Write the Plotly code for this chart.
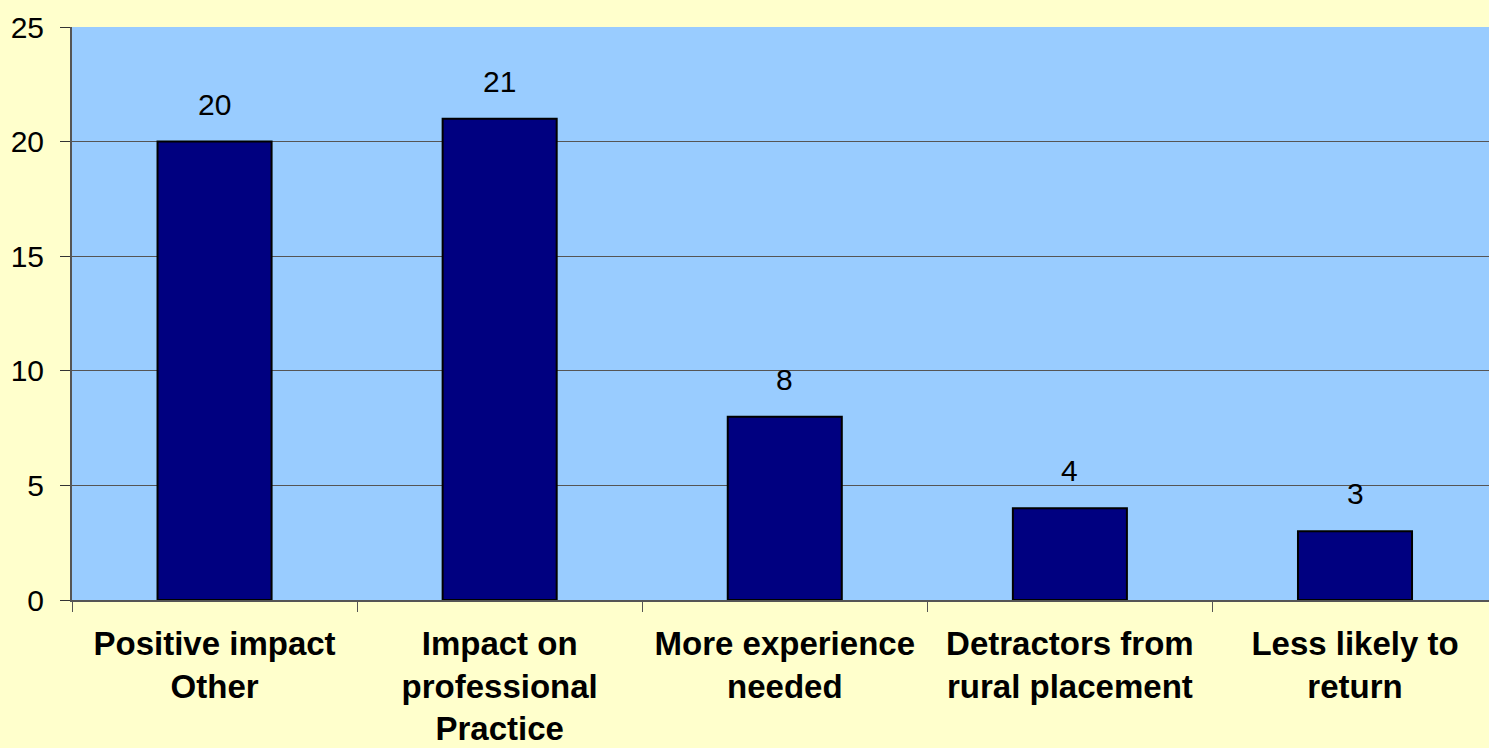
import plotly.graph_objects as go

categories = ["Positive impact<br>Other", "Impact on<br>professional<br>Practice",
              "More experience<br>needed", "Detractors from<br>rural placement",
              "Less likely to<br>return"]
counts = [20, 21, 8, 4, 3]

bars = go.Bar(
    x=categories,
    y=counts,
    width=0.4,
    marker=dict(color="#000080", line=dict(color="black", width=2)),
    showlegend=False,
)

fig = go.Figure(data=[bars])

# value labels above each bar
for cat, val in zip(categories, counts):
    fig.add_annotation(
        x=cat, y=val, text=str(val), showarrow=False,
        yanchor="bottom", yshift=19,
        font=dict(family="Liberation Sans, Arial", size=30, color="black"),
    )

fig.update_layout(
    width=1489,
    height=748,
    paper_bgcolor="#FFFFCC",
    plot_bgcolor="#99CCFF",
    margin=dict(l=72, r=0, t=27, b=148),
    font=dict(family="Liberation Sans, Arial", color="black"),
    xaxis=dict(
        range=[-0.5, 4.47],
        ticks="outside",
        tickson="boundaries",
        ticklen=10,
        tickcolor="#555555",
        tickwidth=1,
        showline=True,
        linecolor="#555555",
        linewidth=2,
        showgrid=False,
        automargin=False,
        tickfont=dict(family="Liberation Sans, Arial", size=33, color="black", weight="bold"),
        ticklabelstandoff=13,
    ),
    yaxis=dict(
        range=[0, 25],
        dtick=5,
        ticks="outside",
        ticklen=10,
        tickcolor="#333333",
        showline=True,
        linecolor="#555555",
        linewidth=2,
        showgrid=True,
        gridcolor="#555555",
        gridwidth=1,
        zeroline=False,
        automargin=False,
        tickfont=dict(family="Liberation Sans, Arial", size=30, color="black"),
        ticklabelstandoff=10,
    ),
)

# drop the default page margin so the chart sits flush in the window
fig.write_html("out.html", config={"displayModeBar": False},
               post_script="document.body.style.margin='0';document.body.style.background='#FFFFCC';")
